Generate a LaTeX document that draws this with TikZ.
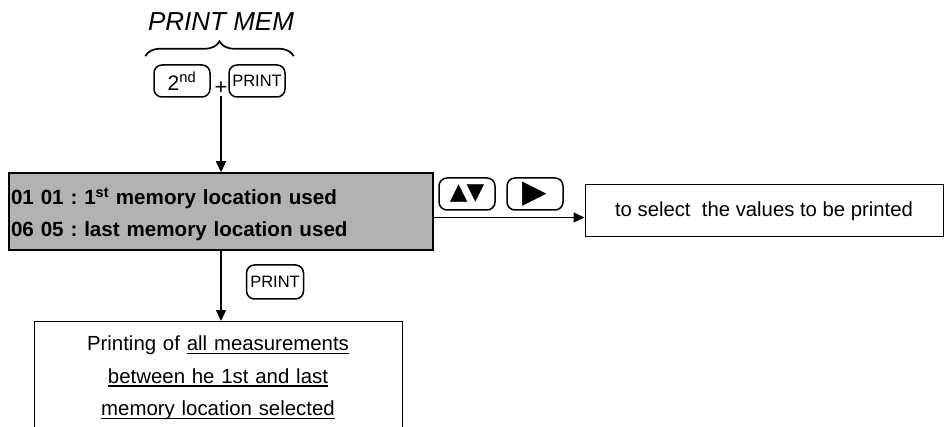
\documentclass[tikz,border=0pt]{standalone}
\usepackage{fontspec}
\setmainfont{Liberation Sans}
\newfontfamily\symfont{DejaVu Sans}
\newcommand{\undln}[1]{\leavevmode\setbox0=\hbox{#1}\rlap{\rule[-3.5pt]{\wd0}{1.1pt}}\box0}
\usetikzlibrary{arrows.meta,decorations.pathreplacing}
\frenchspacing

\begin{document}
\begin{tikzpicture}[x=1pt,y=-1pt,
  key/.style={draw,rounded corners=8pt,line width=1.5pt,minimum width=56pt,minimum height=32pt,inner sep=0pt,font=\fontsize{16.5}{18}\selectfont},
  box/.style={draw,line width=1pt},
  flow/.style={->,line width=1.4pt},
  >={Triangle[length=11pt,width=10pt]}]
\clip (0,0) rectangle (944,427);

\node (title) [font=\itshape\fontsize{26}{30}\selectfont] at (221,22) {PRINT MEM};
\node (second) [key] at (182,81) {\fontsize{21}{22}\selectfont 2\textsuperscript{nd}};
\node (plus) [inner sep=1pt,font=\fontsize{22}{24}\selectfont] at (221,88) {+};
\node (print) [key] at (257,81) {PRINT};
\draw[decorate,decoration={brace,amplitude=15pt},line width=1.7pt]
  ([shift={(-8,-8)}]second.north west) -- ([shift={(8,-8)}]print.north east);

\node (mem) [box,line width=1.5pt,fill=gray!60,text width=420pt,inner xsep=2pt,inner ysep=0pt,
  text height=32pt,text depth=45pt,align=left,font=\bfseries\fontsize{20.6}{32}\selectfont] at (221,211.5)
  {01 01 : 1\textsuperscript{st} memory location used\\06 05 : last memory location used};

\node (updown) [key] at (467,194) {\symfont\fontsize{23}{24}\selectfont ▲\kern-1pt▼};
\node (right) [key] at (535,194) {\symfont\fontsize{32}{32}\selectfont ▶};
\node (sel) [box,minimum width=358pt,minimum height=52pt,inner sep=0pt,font=\fontsize{20.3}{24}\selectfont] at (764,211)
  {to select~ the values to be printed};

\node (print2) [key,minimum width=57pt,minimum height=34pt] at (275,282) {PRINT};
\node (out) [box,anchor=north,text width=360pt,inner xsep=4pt,inner ysep=0pt,
  text height=29pt,text depth=110pt,align=center,font=\fontsize{20.4}{32.5}\selectfont] at (218,321)
  {Printing of \undln{all measurements}\\\undln{between he 1st and last}\\\undln{memory location selected}};

\draw[flow] (plus.south) -- (plus.south |- mem.north);
\draw[flow] ([yshift=-6pt]mem.east) -- ([yshift=-6pt]mem.east -| sel.west);
\draw[flow] (mem.south) -- (mem.south |- out.north);
\end{tikzpicture}
\end{document}
